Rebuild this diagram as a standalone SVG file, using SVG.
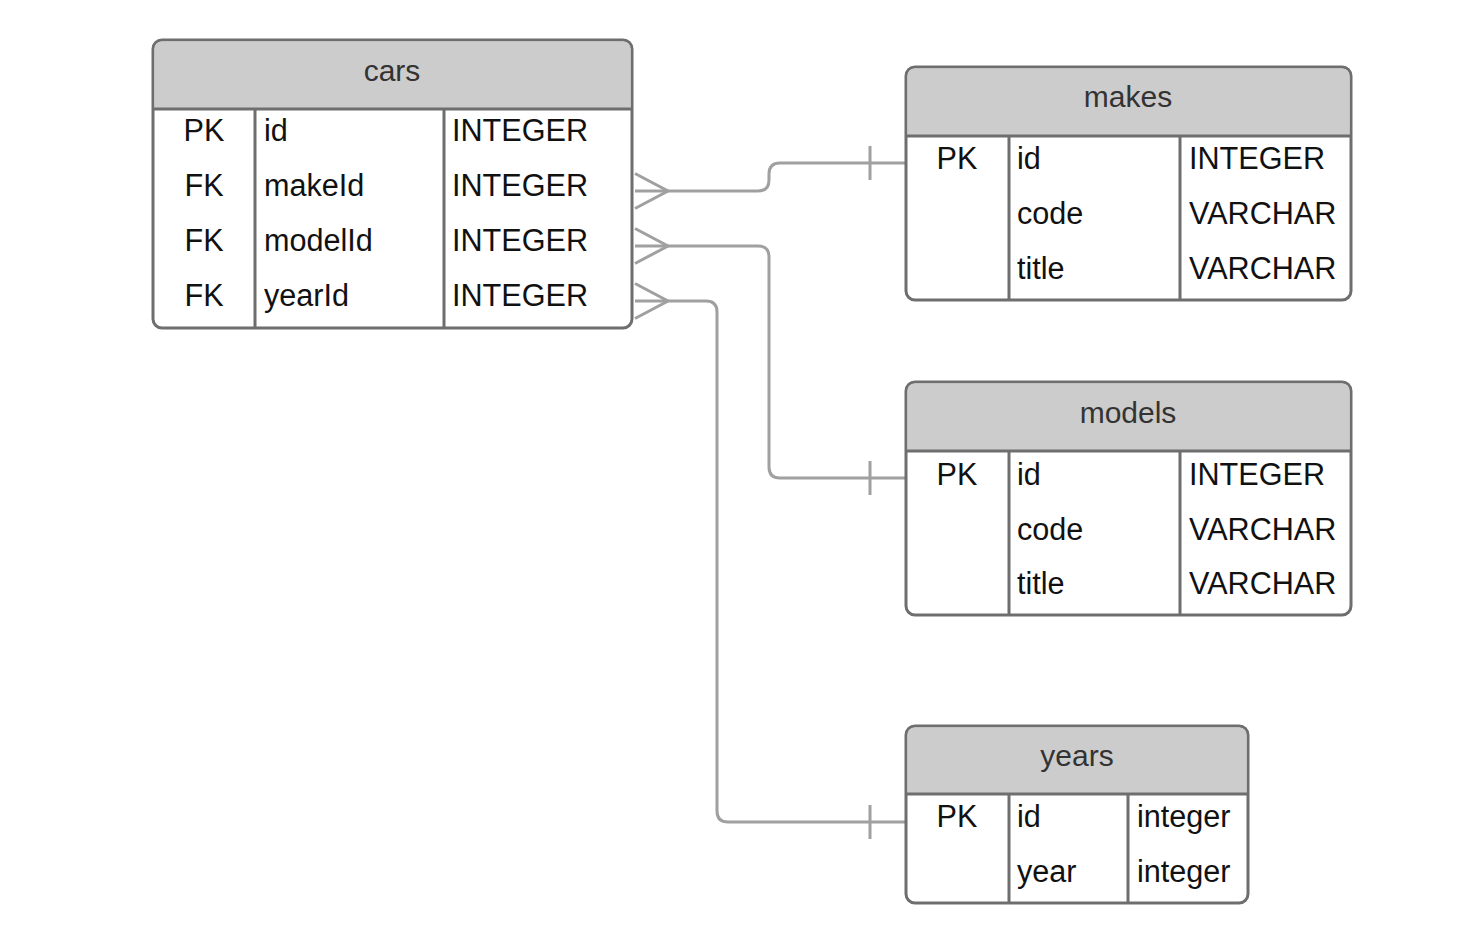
<svg xmlns="http://www.w3.org/2000/svg" width="1470" height="936" viewBox="0 0 1470 936">
<style>
.box{fill:#ffffff;stroke:#6e6e6e;stroke-width:3}
.hdr{fill:#cccccc}
.ln{stroke:#6e6e6e;stroke-width:3;fill:none}
.title{font-family:"Liberation Sans",Arial,sans-serif;font-size:30px;fill:#333333;text-anchor:middle}
.t{font-family:"Liberation Sans",Arial,sans-serif;font-size:30.6px;fill:#111111}
.k{font-family:"Liberation Sans",Arial,sans-serif;font-size:30.6px;fill:#111111;text-anchor:middle}
.c{stroke:#a0a0a0;stroke-width:3;fill:none}
</style>
<rect width="1470" height="936" fill="#ffffff"/>
<g id="connectors">
  <path class="c" d="M635 191 H758 Q769 191 769 180 V174 Q769 163 780 163 H905"/>
  <path class="c" d="M635 173.5 L668 191 L635 208.5 M870 146 V180"/>
  <path class="c" d="M635 246 H758 Q769 246 769 257 V467 Q769 478 780 478 H905"/>
  <path class="c" d="M635 228.5 L668 246 L635 263.5 M870 461 V495"/>
  <path class="c" d="M635 301 H706 Q717 301 717 312 V811 Q717 822 728 822 H905"/>
  <path class="c" d="M635 283.5 L668 301 L635 318.5 M870 805 V839"/>
</g>
<g id="cars">
  <rect class="box" x="153" y="40" width="479" height="288" rx="9"/>
  <path class="hdr" d="M162 41.5 H623 Q630.5 41.5 630.5 49 V108 H154.5 V49 Q154.5 41.5 162 41.5 Z"/>
  <path class="ln" d="M153 109 H632 M255 109 V328 M444 109 V328"/>
  <text class="title" x="392" y="81">cars</text>
  <text class="k" x="204" y="141">PK</text><text class="t" x="264" y="141">id</text><text class="t" x="452" y="141">INTEGER</text>
  <text class="k" x="204" y="196">FK</text><text class="t" x="264" y="196">makeId</text><text class="t" x="452" y="196">INTEGER</text>
  <text class="k" x="204" y="251">FK</text><text class="t" x="264" y="251">modelId</text><text class="t" x="452" y="251">INTEGER</text>
  <text class="k" x="204" y="306">FK</text><text class="t" x="264" y="306">yearId</text><text class="t" x="452" y="306">INTEGER</text>
</g>
<g id="makes">
  <rect class="box" x="906" y="67" width="445" height="233" rx="9"/>
  <path class="hdr" d="M915 68.5 H1342 Q1349.5 68.5 1349.5 76 V135 H907.5 V76 Q907.5 68.5 915 68.5 Z"/>
  <path class="ln" d="M906 136 H1351 M1009 136 V300 M1180 136 V300"/>
  <text class="title" x="1128" y="107">makes</text>
  <text class="k" x="957" y="169">PK</text><text class="t" x="1017" y="169">id</text><text class="t" x="1189" y="169">INTEGER</text>
  <text class="t" x="1017" y="224">code</text><text class="t" x="1189" y="224">VARCHAR</text>
  <text class="t" x="1017" y="279">title</text><text class="t" x="1189" y="279">VARCHAR</text>
</g>
<g id="models">
  <rect class="box" x="906" y="382" width="445" height="233" rx="9"/>
  <path class="hdr" d="M915 383.5 H1342 Q1349.5 383.5 1349.5 391 V450 H907.5 V391 Q907.5 383.5 915 383.5 Z"/>
  <path class="ln" d="M906 451 H1351 M1009 451 V615 M1180 451 V615"/>
  <text class="title" x="1128" y="423">models</text>
  <text class="k" x="957" y="485">PK</text><text class="t" x="1017" y="485">id</text><text class="t" x="1189" y="485">INTEGER</text>
  <text class="t" x="1017" y="540">code</text><text class="t" x="1189" y="540">VARCHAR</text>
  <text class="t" x="1017" y="594">title</text><text class="t" x="1189" y="594">VARCHAR</text>
</g>
<g id="years">
  <rect class="box" x="906" y="726" width="342" height="177" rx="9"/>
  <path class="hdr" d="M915 727.5 H1239 Q1246.5 727.5 1246.5 735 V793 H907.5 V735 Q907.5 727.5 915 727.5 Z"/>
  <path class="ln" d="M906 794 H1248 M1009 794 V903 M1128 794 V903"/>
  <text class="title" x="1077" y="766">years</text>
  <text class="k" x="957" y="827">PK</text><text class="t" x="1017" y="827">id</text><text class="t" x="1137" y="827">integer</text>
  <text class="t" x="1017" y="882">year</text><text class="t" x="1137" y="882">integer</text>
</g>
</svg>
